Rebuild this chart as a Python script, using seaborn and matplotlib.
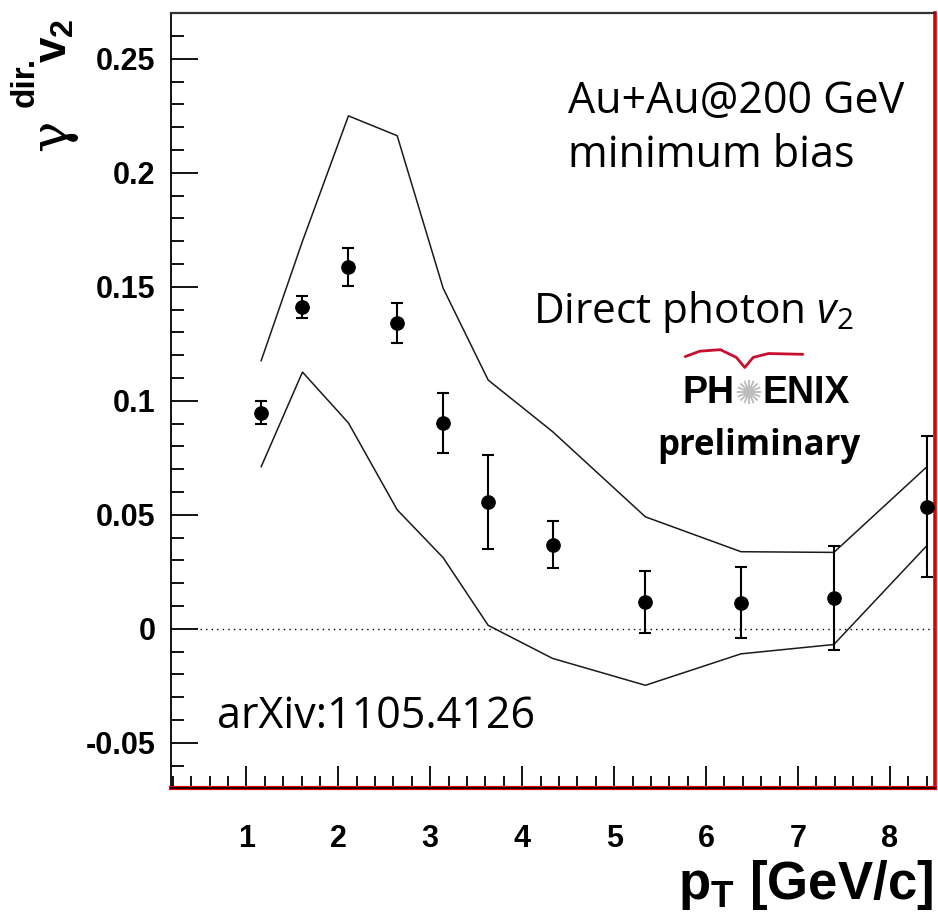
import numpy as np
import pandas as pd
import matplotlib
matplotlib.use("Agg")
import matplotlib.pyplot as plt
import seaborn as sns
from matplotlib.ticker import MultipleLocator

# ---------------- data ----------------
pt = [1.16, 1.61, 2.11, 2.64, 3.14, 3.63, 4.33, 5.34, 6.38, 7.39, 8.40]
v2 = [0.0947, 0.1410, 0.1586, 0.1341, 0.0903, 0.0557, 0.0369, 0.0119, 0.0115, 0.0133, 0.0535]
v2_err = [0.0050, 0.0048, 0.0083, 0.0088, 0.0131, 0.0205, 0.0103, 0.0136, 0.0154, 0.0228, 0.0310]
sys_upper = [0.1175, 0.1700, 0.2250, 0.2163, 0.1494, 0.1091, 0.0865, 0.0491, 0.0338, 0.0335, 0.0710]
sys_lower = [0.0710, 0.1126, 0.0903, 0.0522, 0.0312, 0.0015, -0.0130, -0.0248, -0.0110, -0.0069, 0.0364]

xticks = [1, 2, 3, 4, 5, 6, 7, 8]
xtick_labels = ["1", "2", "3", "4", "5", "6", "7", "8"]
yticks = [-0.05, 0.0, 0.05, 0.10, 0.15, 0.20, 0.25]
ytick_labels = ["-0.05", "0", "0.05", "0.1", "0.15", "0.2", "0.25"]
x_range = (0.18, 8.49)
y_range = (-0.07, 0.27)
zero_line_start = 0.5

# ---------------- style ----------------
sns.set_style("ticks")
plt.rcParams.update({
    "font.family": ["Liberation Sans", "DejaVu Sans"],
    "mathtext.fontset": "custom",
    "mathtext.rm": "Open Sans",
    "mathtext.it": "Open Sans:italic",
    "mathtext.bf": "Liberation Sans:bold",
    "text.color": "black",
    "axes.labelcolor": "black",
    "xtick.color": "black",
    "ytick.color": "black",
    "xtick.labelcolor": "black",
    "ytick.labelcolor": "black",
})

fig = plt.figure(figsize=(9.38, 9.23), dpi=100)
ax = fig.add_axes([0.1823, 0.1459, 0.8145, 0.8397])

df_pts = pd.DataFrame({"pt": pt, "v2": v2})
df_band = pd.DataFrame({
    "pt": pt + pt,
    "v2": sys_upper + sys_lower,
    "edge": ["upper"] * len(pt) + ["lower"] * len(pt),
})

sns.lineplot(data=df_band, x="pt", y="v2", units="edge", estimator=None,
             sort=False, color="#1a1a1a", lw=1.1, ax=ax, legend=False)
ax.errorbar(pt, v2, yerr=v2_err, fmt="none", ecolor="black",
            elinewidth=1.5, capsize=4.5, capthick=1.5, zorder=4)
sns.scatterplot(data=df_pts, x="pt", y="v2", s=95, color="black",
                edgecolor="black", ax=ax, zorder=5)

ax.hlines(0, zero_line_start, x_range[1], colors="black",
          linestyles=(0, (1, 3)), lw=1.0)

ax.set_xlim(*x_range)
ax.set_ylim(*y_range)
ax.set_xlabel("")
ax.set_ylabel("")

ax.set_xticks(xticks, xtick_labels, fontweight="bold", fontsize=22, color="black")
ax.set_yticks(yticks, ytick_labels, fontweight="bold", fontsize=22, color="black")
ax.xaxis.set_minor_locator(MultipleLocator(0.2))
ax.yaxis.set_minor_locator(MultipleLocator(0.01))
ax.tick_params(axis="both", which="both", direction="in", top=False, right=False,
               color="black")
ax.tick_params(axis="y", which="major", length=19.5, width=1.3, pad=11)
ax.tick_params(axis="y", which="minor", length=9.4, width=1.3)
ax.tick_params(axis="x", which="major", length=16, width=1.3, pad=26)
ax.tick_params(axis="x", which="minor", length=8.6, width=1.3)

for s in ["left", "top", "right", "bottom"]:
    ax.spines[s].set_visible(True)
ax.spines["left"].set_color("black")
ax.spines["left"].set_linewidth(1.3)
ax.spines["top"].set_color("#333333")
ax.spines["top"].set_linewidth(1.6)
ax.spines["right"].set_color("#e00000")
ax.spines["right"].set_linewidth(2.6)
ax.spines["bottom"].set_color("#e00000")
ax.spines["bottom"].set_linewidth(3.0)
ax.axhline(y_range[0], color="black", lw=1.2, clip_on=False, zorder=6)

# ---------------- annotations ----------------
tA = dict(transform=ax.transAxes, family=["Open Sans", "DejaVu Sans"],
          va="baseline", ha="left", color="black")
ax.text(0.520, 0.8714, "Au+Au@200 GeV", fontsize=31, **tA)
ax.text(0.520, 0.8017, "minimum bias", fontsize=31, **tA)
ax.text(0.4738, 0.6003, r"Direct photon $v_2$", fontsize=30.5, **tA)
ax.text(0.0602, 0.0778, "arXiv:1105.4126", fontsize=31, **tA)
ax.text(0.636, 0.430, "preliminary", fontsize=25, fontweight="bold", **tA)

# PHENIX logo
t1 = ax.text(0.669, 0.497, "PH", transform=ax.transAxes, fontsize=27, color="black",
             fontweight="bold", family="Liberation Sans", va="baseline", ha="left")
t2 = ax.annotate("\u273A", xy=(1, 0), xycoords=t1, va="bottom", ha="left",
                 fontsize=24, color="#bdbdbd", family="DejaVu Sans")
ax.annotate("ENIX", xy=(1, 0), xycoords=t2, va="bottom", ha="left", color="black",
            fontsize=27, fontweight="bold", family="Liberation Sans")
logo_x = [0.673, 0.692, 0.719, 0.740, 0.751, 0.762, 0.782, 0.827]
logo_y = [0.557, 0.564, 0.566, 0.556, 0.543, 0.556, 0.561, 0.560]
ax.plot(logo_x, logo_y, color="#c8102e", lw=2.0, transform=ax.transAxes,
        solid_capstyle="round")

# y-axis title (ROOT style, at the top): gamma^{dir.} v_2, built from pieces
fig.text(0.0554, 0.8537, "\u03b3", rotation=90, ha="center", va="center",
         fontsize=38, family="DejaVu Serif", color="black")
fig.text(0.0265, 0.9110, "dir.", rotation=90, ha="center", va="center",
         fontsize=24, fontweight="bold", family="Liberation Sans", color="black")
fig.text(0.0580, 0.9560, r"$\mathbf{v}_{\mathbf{2}}$", rotation=90,
         ha="center", va="center", fontsize=33, color="black")

# x-axis title
fig.text(0.9947, 0.0255, r"$\mathbf{p}_{\mathbf{T}}$ [GeV/c]", ha="right",
         va="baseline", fontsize=38, fontweight="bold", family="Liberation Sans",
         color="black")

fig.savefig("out.png", dpi=100)
